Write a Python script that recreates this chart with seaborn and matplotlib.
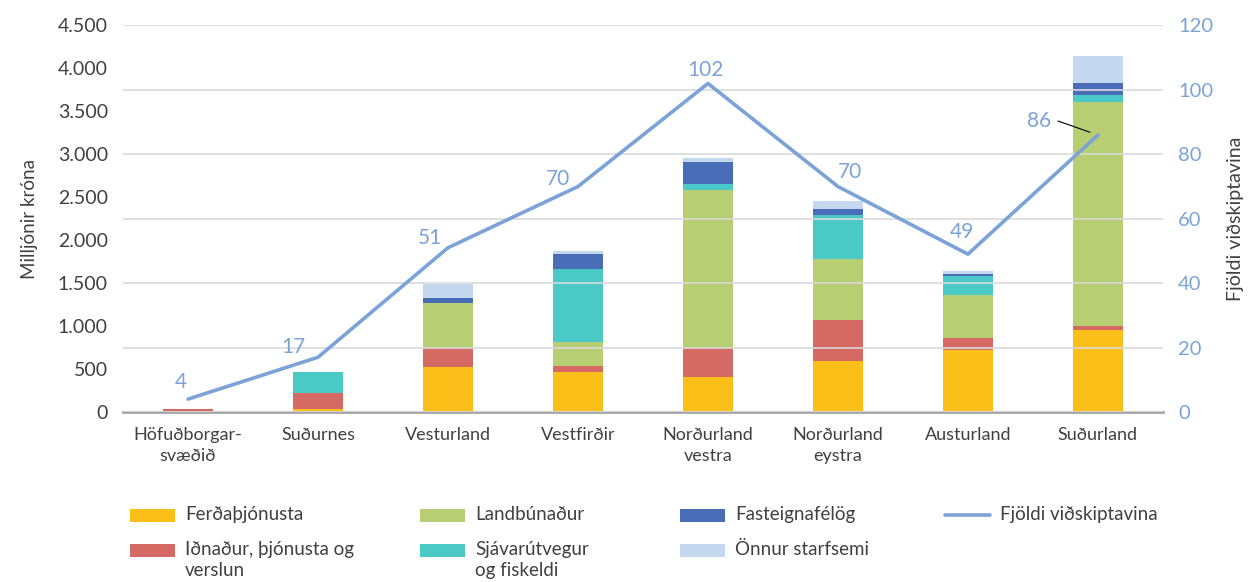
import numpy as np
import pandas as pd
import seaborn as sns
import matplotlib.pyplot as plt
from matplotlib.patches import Rectangle
from matplotlib.lines import Line2D
from matplotlib.ticker import FuncFormatter

# gögn lesin af myndinni
svaedi = ['Höfuðborgar-\nsvæðið', 'Suðurnes', 'Vesturland', 'Vestfirðir',
          'Norðurland\nvestra', 'Norðurland\neystra', 'Austurland', 'Suðurland']
ferdathjonusta = [0, 35, 520, 465, 411, 597, 717, 958]
idnadur = [40, 186, 225, 70, 333, 473, 147, 43]
landbunadur = [0, 0, 520, 275, 1845, 713, 500, 2613]
sjavarutvegur = [0, 240, 0, 850, 66, 516, 221, 78]
fasteignafelog = [0, 0, 58, 182, 256, 62, 19, 136]
onnur = [0, 10, 163, 27, 47, 97, 35, 322]
fjoldi = [4, 17, 51, 70, 102, 70, 49, 86]

flokkar = ['Ferðaþjónusta', 'Iðnaður, þjónusta og\nverslun', 'Landbúnaður',
           'Sjávarútvegur\nog fiskeldi', 'Fasteignafélög', 'Önnur starfsemi']
litir = ['#FBBF1A', '#D46A63', '#B7CE72', '#4BC9C6', '#4A6DB7', '#C4D9F0']
lina_litur = '#7BA3D8'
texti_litur = '#404040'

df = pd.DataFrame({
    flokkar[0]: ferdathjonusta,
    flokkar[1]: idnadur,
    flokkar[2]: landbunadur,
    flokkar[3]: sjavarutvegur,
    flokkar[4]: fasteignafelog,
    flokkar[5]: onnur,
}, index=svaedi)

sns.set_style('white')
plt.rcParams['font.family'] = ['Lato', 'DejaVu Sans']

W, H = 1253, 582
fig = plt.figure(figsize=(W / 100, H / 100), dpi=100)
ax = fig.add_axes([0.0982, 0.2921, 0.8299, 0.6641])
ax2 = ax.twinx()

# staflaðar súlur
x = np.arange(len(svaedi))
botn = np.zeros(len(svaedi))
for flokkur, litur in zip(flokkar, litir):
    ax.bar(x, df[flokkur].values, bottom=botn, width=0.39, color=litur,
           edgecolor='none', zorder=3)
    botn += df[flokkur].values

ax.set_xlim(-0.5, len(svaedi) - 0.5)
ax.set_ylim(0, 4500)
ax.set_yticks(np.arange(0, 4501, 500))
ax.yaxis.set_major_formatter(FuncFormatter(lambda v, p: f'{int(v):,}'.replace(',', '.')))
ax.set_xticks(x)
ax.set_xticklabels(svaedi, fontsize=13, color=texti_litur, linespacing=1.35)
ax.tick_params(axis='x', length=0, pad=11)
ax.tick_params(axis='y', length=0, pad=11, labelsize=14, labelcolor=texti_litur)
ax.set_ylabel('Milljónir króna', fontsize=13.5, color=texti_litur, labelpad=14)
for s in ['top', 'right', 'left']:
    ax.spines[s].set_visible(False)
ax.spines['bottom'].set_color('#A6A6A6')
ax.spines['bottom'].set_linewidth(2)
ax.spines['bottom'].set_zorder(5)

# lína á hægri ás
sns.lineplot(x=x, y=fjoldi, ax=ax2, color=lina_litur, linewidth=2.6, zorder=4)
ax2.set_ylim(0, 120)
ax2.set_yticks(np.arange(0, 121, 20))
ax2.tick_params(axis='y', length=0, pad=11, labelsize=14.5, labelcolor=lina_litur)
ax2.grid(axis='y', color='#D9D9D9', linewidth=1.2, zorder=0)
ax2.set_ylabel('Fjöldi viðskiptavina', fontsize=14, color=texti_litur, labelpad=10,
               rotation=90)
for s in ['top', 'right', 'left', 'bottom']:
    ax2.spines[s].set_visible(False)
ax.set_zorder(ax2.get_zorder() - 1)
ax2.patch.set_visible(False)
ax.patch.set_visible(False)

# gildi á línu
hnikun = [(-7, 17), (-25, 10), (-18, 10), (-20, 8), (-3, 13), (12, 15), (-6, 22), (-59, 14)]
for xi, yi, (dx, dy) in zip(x, fjoldi, hnikun):
    ax2.annotate(str(yi), (xi, yi), xytext=(dx, dy), textcoords='offset pixels',
                 ha='center', va='center', fontsize=15, color=lina_litur)
ax2.annotate('', xy=(x[-1], fjoldi[-1]), xytext=(-40, 14), textcoords='offset pixels',
             arrowprops=dict(arrowstyle='-', color='black', lw=0.8, shrinkA=0, shrinkB=6))

# skýringar, handteiknaðar svo kassar standi við fyrstu línu
labels = flokkar + ['Fjöldi viðskiptavina']
dalkar = [130, 130, 420, 420, 680, 680, 945]
radir = [515, 550, 515, 550, 515, 550, 515]
for i, (lab, px, py) in enumerate(zip(labels, dalkar, radir)):
    fx, fy = px / W, 1 - py / H
    if i < len(litir):
        fig.add_artist(Rectangle((fx, fy - 6.5 / H), 45 / W, 13 / H,
                                 transform=fig.transFigure, facecolor=litir[i],
                                 edgecolor='none'))
    else:
        fig.add_artist(Line2D([fx, fx + 45 / W], [fy, fy], transform=fig.transFigure,
                              color=lina_litur, linewidth=2.6))
    fig.text(fx + 55 / W, fy + 9 / H, lab, fontsize=13.5, color=texti_litur,
             ha='left', va='top', linespacing=1.3)

fig.savefig('out.png', dpi=100)
